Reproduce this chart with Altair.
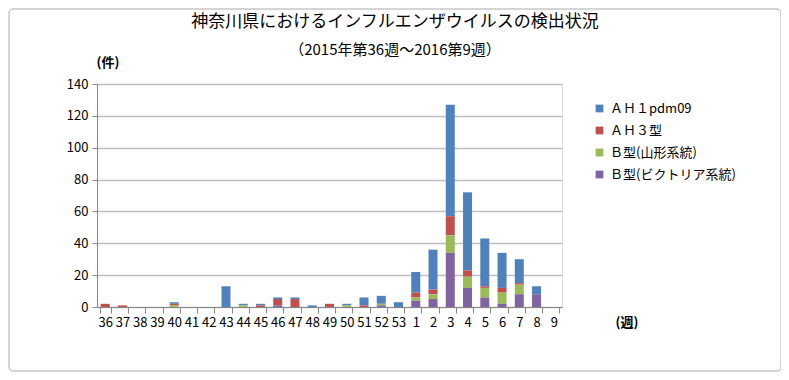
import altair as alt
import pandas as pd

weeks = ["36","37","38","39","40","41","42","43","44","45","46","47","48","49","50","51","52","53",
         "1","2","3","4","5","6","7","8","9"]
ah1 = [0,0,0,0,1,0,0,13,1,1,1,1,1,0,1,5,5,3,13,25,70,49,30,22,15,5,0]
ah3 = [2,1,0,0,1,0,0,0,0,1,4,5,0,2,0,1,0,0,3,3,12,4,1,3,1,0,0]
b_yam = [0,0,0,0,1,0,0,0,1,0,0,0,0,0,1,0,1,0,2,3,11,7,6,7,6,0,0]
b_vic = [0,0,0,0,0,0,0,0,0,0,1,0,0,0,0,0,1,0,4,5,34,12,6,2,8,8,0]

series = ["ＡＨ１pdm09", "ＡＨ３型", "Ｂ型(山形系統)", "Ｂ型(ビクトリア系統)"]
colors = ["#4F81BD", "#C0504D", "#9BBB59", "#8064A2"]
stack_rank = [3, 2, 1, 0]
y_ticks = [0, 20, 40, 60, 80, 100, 120, 140]

rows = []
for s, vals, r in zip(series, [ah1, ah3, b_yam, b_vic], stack_rank):
    for w, v in zip(weeks, vals):
        rows.append({"week": w, "series": s, "value": v, "rank": r})
df = pd.DataFrame(rows)

FONT = "Noto Sans CJK JP"

bars = alt.Chart(df).mark_bar(size=9).encode(
    x=alt.X("week:N", sort=weeks, title=None,
            scale=alt.Scale(paddingInner=0.35, paddingOuter=0.15),
            axis=alt.Axis(labelAngle=0, labelFontSize=13, labelFont=FONT, labelColor="#000",
                          tickBand="extent", tickSize=6, tickColor="#888", domainColor="#888",
                          labelPadding=3, grid=False)),
    y=alt.Y("value:Q", stack="zero", title=None,
            scale=alt.Scale(domain=[0, 140]),
            axis=alt.Axis(values=y_ticks, labelFontSize=13, labelFont=FONT, labelColor="#000",
                          tickSize=5, tickColor="#888", domainColor="#888", labelPadding=4,
                          gridColor="#BFBFBF", gridWidth=1.5)),
    color=alt.Color("series:N", scale=alt.Scale(domain=series, range=colors),
                    legend=alt.Legend(title=None, orient="none", legendX=496, legendY=18,
                                      labelFont=FONT, labelFontSize=13, labelColor="#000",
                                      symbolType="square", symbolSize=60, symbolStrokeWidth=0,
                                      rowPadding=8, labelLimit=300)),
    order=alt.Order("rank:Q", sort="ascending"),
)

def txt(text, x, y, size, weight="normal", align="center"):
    return alt.Chart(pd.DataFrame({"t": [text]})).mark_text(
        font=FONT, fontSize=size, fontWeight=weight, align=align, baseline="middle", color="#000"
    ).encode(text="t:N", x=alt.value(x), y=alt.value(y))

border = alt.Chart(pd.DataFrame({"a": [0]})).mark_rect(
    fill=None, stroke="#AAAAAA", strokeWidth=1, cornerRadius=4
).encode(x=alt.value(-88), x2=alt.value(684), y=alt.value(-75), y2=alt.value(287))

chart = alt.layer(
    border,
    bars,
    txt("神奈川県におけるインフルエンザウイルスの検出状況", 298, -62, 17),
    txt("（2015年第36週～2016第9週）", 298, -34, 15),
    txt("(件)", 11, -21, 13, weight="bold"),
    txt("(週)", 530, 239, 13, weight="bold"),
).properties(
    width=465, height=223,
    padding={"left": 89, "top": 76, "right": 219, "bottom": 65},
    autosize=alt.AutoSizeParams(type="none"),
).configure_view(stroke=None).configure(background="white")

chart.save("out.html", embed_options={"renderer": "svg", "actions": False})
